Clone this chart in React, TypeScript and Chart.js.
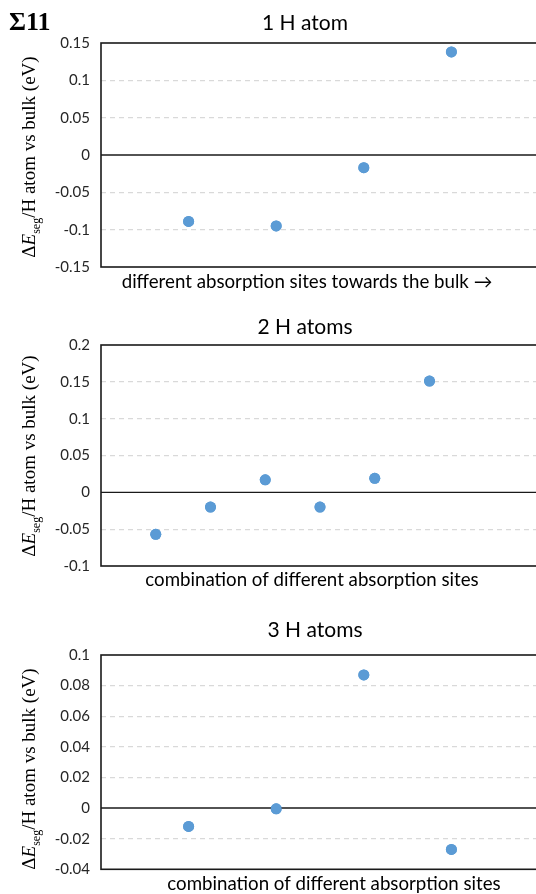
import React, { useEffect, useRef } from "react";
import { Chart, registerables } from "chart.js";
Chart.register(...registerables);

const panelTitles = ["1 H atom", "2 H atoms", "3 H atoms"];
const xAxisTitles = [
  "different absorption sites towards the bulk \u2192",
  "combination of different absorption sites",
  "combination of different absorption sites",
];
const figureLabel = "\u03a311";

const sites1 = [1, 2, 3, 4];
const values1 = [-0.089, -0.095, -0.017, 0.138];
const sites2 = [1, 2, 3, 4, 5, 6];
const values2 = [-0.057, -0.02, 0.017, -0.02, 0.019, 0.151];
const sites3 = [1, 2, 3, 4];
const values3 = [-0.012, -0.0005, 0.087, -0.027];

const yTicks1 = [-0.15, -0.1, -0.05, 0, 0.05, 0.1, 0.15];
const yTicks2 = [-0.1, -0.05, 0, 0.05, 0.1, 0.15, 0.2];
const yTicks3 = [-0.04, -0.02, 0, 0.02, 0.04, 0.06, 0.08, 0.1];
const xMaxes = [5, 8, 5];

const SANS = 'Lato, "Open Sans", sans-serif';
const SERIF = '"Liberation Serif", "DejaVu Serif", serif';
const W = 548;

const panels = [
  { top: 0, height: 300, padTop: 43, padBottom: 33, sites: sites1, values: values1, ticks: yTicks1, xMax: xMaxes[0],
    title: panelTitles[0], titleX: 305, titleY: 29.5, xTitle: xAxisTitles[0], xTitleX: 307, xTitleY: 287.5, yTitleY: 157, label: true },
  { top: 300, height: 300, padTop: 45, padBottom: 34, sites: sites2, values: values2, ticks: yTicks2, xMax: xMaxes[1],
    title: panelTitles[1], titleX: 305, titleY: 34, xTitle: xAxisTitles[1], xTitleX: 312, xTitleY: 286, yTitleY: 156, label: false },
  { top: 600, height: 294, padTop: 55, padBottom: 24.7, sites: sites3, values: values3, ticks: yTicks3, xMax: xMaxes[2],
    title: panelTitles[2], titleX: 315, titleY: 36.7, xTitle: xAxisTitles[2], xTitleX: 334, xTitleY: 290, yTitleY: 169, label: false },
];

function drawYTitle(ctx: CanvasRenderingContext2D, baselineX: number, centerY: number, size: number) {
  const sub = Math.round(size * 0.65);
  const parts = [
    { t: "\u0394", font: `${size}px ${SERIF}`, dy: 0 },
    { t: "E", font: `italic ${size}px ${SERIF}`, dy: 0 },
    { t: "seg", font: `${sub}px ${SERIF}`, dy: size * 0.25 },
    { t: "/H atom vs bulk (eV)", font: `${size}px ${SERIF}`, dy: 0 },
  ];
  let total = 0;
  const widths: number[] = [];
  for (const p of parts) {
    ctx.font = p.font;
    const w = ctx.measureText(p.t).width;
    widths.push(w);
    total += w;
  }
  ctx.save();
  ctx.translate(baselineX, centerY);
  ctx.rotate(-Math.PI / 2);
  ctx.fillStyle = "#000";
  ctx.textBaseline = "alphabetic";
  ctx.textAlign = "left";
  let x = -total / 2;
  parts.forEach((p, i) => {
    ctx.font = p.font;
    ctx.fillText(p.t, x, p.dy);
    x += widths[i];
  });
  ctx.restore();
}

const decorPlugin = {
  id: "decor",
  afterDraw(chart: any, _args: any, opts: any) {
    const ctx: CanvasRenderingContext2D = chart.ctx;
    const a = chart.chartArea;
    const y = chart.scales.y;
    ctx.save();
    const zy = y.getPixelForValue(0);
    ctx.strokeStyle = "#1a1a1a";
    ctx.lineWidth = 1.4;
    ctx.beginPath();
    ctx.moveTo(a.left, zy);
    ctx.lineTo(a.right, zy);
    ctx.stroke();
    ctx.lineWidth = 1.6;
    ctx.strokeRect(a.left, a.top, a.right - a.left, a.bottom - a.top);
    ctx.fillStyle = "#000";
    ctx.textAlign = "center";
    ctx.textBaseline = "alphabetic";
    ctx.font = `21px ${SANS}`;
    ctx.fillText(opts.title, opts.titleX, opts.titleY);
    ctx.font = `18.7px ${SANS}`;
    ctx.fillText(opts.xTitle, opts.xTitleX, opts.xTitleY);
    if (opts.label) {
      ctx.textAlign = "left";
      ctx.font = `bold 26px ${SERIF}`;
      ctx.fillText(figureLabel, 9, 30);
    }
    ctx.restore();
    drawYTitle(ctx, 35, opts.yTitleY, 19);
    const meta = chart.getDatasetMeta(0);
    meta.data.forEach((el: any) => el.draw(ctx, a));
  },
};

function Panel({ p }: { p: any }) {
  const ref = useRef<HTMLCanvasElement | null>(null);
  useEffect(() => {
    const canvas = ref.current!;
    const chart = new Chart(canvas, {
      type: "scatter",
      data: {
        datasets: [
          {
            data: p.sites.map((s: number, i: number) => ({ x: s, y: p.values[i] })),
            backgroundColor: "#5b9bd5",
            borderColor: "#5b9bd5",
            pointRadius: 5.5,
            pointHoverRadius: 5.5,
            pointBorderWidth: 0,
          },
        ],
      },
      options: {
        responsive: false,
        animation: false,
        events: [],
        layout: { padding: { left: 0, top: p.padTop, right: W - 539, bottom: p.padBottom } },
        plugins: {
          legend: { display: false },
          tooltip: { enabled: false },
          title: { display: false },
          decor: p,
        } as any,
        scales: {
          x: { type: "linear", display: false, min: 0, max: p.xMax },
          y: {
            type: "linear",
            min: p.ticks[0],
            max: p.ticks[p.ticks.length - 1],
            afterBuildTicks: (scale: any) => {
              scale.ticks = p.ticks.map((v: number) => ({ value: v }));
            },
            afterFit: (scale: any) => {
              scale.width = 101;
            },
            ticks: {
              padding: 11,
              color: "#262626",
              font: { family: SANS, size: 15 },
              callback: (v: any) => String(v),
            },
            grid: {
              drawTicks: false,
              color: (c: any) => {
                const v = c.tick ? c.tick.value : null;
                if (v === 0 || v === p.ticks[0] || v === p.ticks[p.ticks.length - 1]) return "rgba(0,0,0,0)";
                return "#d9d9d9";
              },
              lineWidth: 1.2,
            },
            border: { display: false, dash: [5, 4] },
          },
        },
      },
      plugins: [decorPlugin],
    });
    return () => chart.destroy();
  }, []);
  return (
    <canvas
      ref={ref}
      width={W}
      height={p.height}
      style={{ position: "absolute", left: 0, top: p.top, width: W, height: p.height }}
    />
  );
}

export default function App() {
  return (
    <div style={{ position: "absolute", left: 0, top: 0, width: 536, height: 894, overflow: "hidden", background: "#fff" }}>
      {panels.map((p, i) => (
        <Panel key={i} p={p} />
      ))}
    </div>
  );
}
